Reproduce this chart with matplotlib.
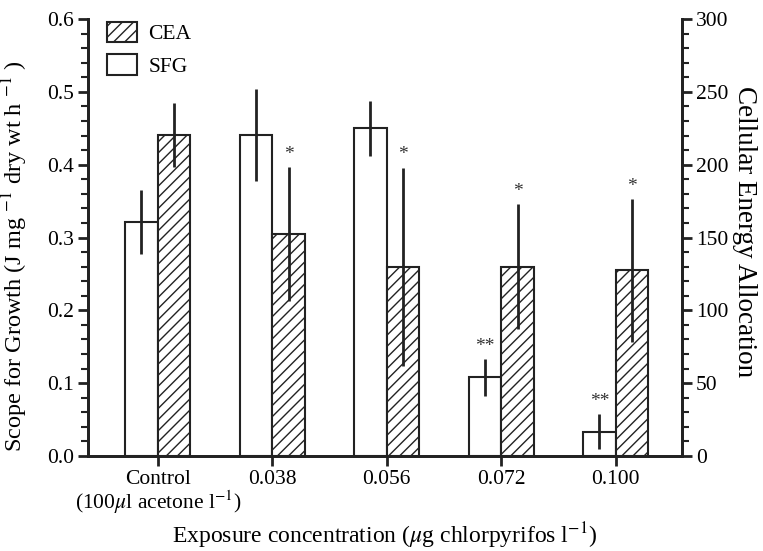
import numpy as np
import matplotlib.pyplot as plt
from matplotlib.ticker import MultipleLocator

plt.rcParams['font.family'] = ['Liberation Serif', 'DejaVu Serif']
plt.rcParams['mathtext.fontset'] = 'stix'
plt.rcParams['hatch.linewidth'] = 1.0

# data
groups = ["Control\n(100$\\mu$l acetone l$^{-1}$)", "0.038", "0.056", "0.072", "0.100"]
sfg = [0.321, 0.441, 0.450, 0.108, 0.033]
sfg_err = [0.044, 0.063, 0.038, 0.025, 0.024]
cea = [220.5, 152.5, 130.0, 130.0, 127.5]      # right axis units
cea_err = [22.0, 46.0, 68.0, 43.0, 49.0]
sfg_marks = ["", "", "", "**", "**"]
cea_marks = ["", "*", "*", "*", "*"]

x = np.arange(len(groups))
w = 0.285
tick_fs = 15.5

fig = plt.figure(figsize=(7.63, 5.51), dpi=100)
ax = fig.add_axes([0.1153, 0.1724, 0.7787, 0.7931])
ax2 = ax.twinx()

b1 = ax.bar(x - w/2, sfg, w, facecolor='white', edgecolor='#222222', lw=1.5, zorder=2)
ax.errorbar(x - w/2, sfg, yerr=sfg_err, fmt='none', ecolor='#222222', elinewidth=2, capsize=0, zorder=3)
b2 = ax2.bar(x + w/2, cea, w, facecolor='white', edgecolor='#222222', lw=1.5, hatch='///', zorder=2)
ax2.errorbar(x + w/2, cea, yerr=cea_err, fmt='none', ecolor='#222222', elinewidth=2, capsize=0, zorder=3)

for i in range(len(x)):
    if sfg_marks[i]:
        ax.annotate(sfg_marks[i], (x[i] - w/2, sfg[i] + sfg_err[i]), xytext=(0, 3),
                    textcoords='offset points', ha='center', va='bottom', fontsize=14, color='#333333')
    if cea_marks[i]:
        ax2.annotate(cea_marks[i], (x[i] + w/2, cea[i] + cea_err[i]), xytext=(0, 3),
                     textcoords='offset points', ha='center', va='bottom', fontsize=14, color='#333333')

ax.set_xlim(-0.61, 4.58)
ax.set_ylim(0, 0.6)
ax2.set_ylim(0, 300)
ax.set_xticks(x)
ax.set_xticklabels(groups)
for lbl in ax.get_xticklabels():
    lbl.set_linespacing(1.0)
ax.yaxis.set_major_locator(MultipleLocator(0.1))
ax.yaxis.set_minor_locator(MultipleLocator(0.02))
ax.yaxis.set_major_formatter(plt.FormatStrFormatter('%.1f'))
ax2.yaxis.set_major_locator(MultipleLocator(50))
ax2.yaxis.set_minor_locator(MultipleLocator(10))

for a in (ax, ax2):
    a.spines['top'].set_visible(False)
    for s in a.spines.values():
        s.set_linewidth(2)
        s.set_color('#222222')
    a.tick_params(axis='both', which='major', length=7, width=2, labelsize=tick_fs,
                  color='#222222', pad=3)
    a.tick_params(axis='y', which='minor', length=5, width=1.5, color='#222222')

ax.set_ylabel("Scope for Growth (J mg $^{-1}$ dry wt h $^{-1}$ )", fontsize=17.5)
ax.yaxis.set_label_coords(-0.097, 0.458)
ax2.set_ylabel("Cellular Energy Allocation", fontsize=19.5, rotation=270, va='bottom')
ax2.yaxis.set_label_coords(1.084, 0.513)
ax.set_xlabel("Exposure concentration ($\\mu$g chlorpyrifos l$^{-1}$)", fontsize=17)
ax.xaxis.set_label_coords(0.5, -0.147)

ax.legend([b2, b1], ["CEA", "SFG"], loc='upper left', bbox_to_anchor=(0.0, 1.038),
          frameon=False, fontsize=tick_fs, handlelength=1.4, handleheight=1.1,
          handletextpad=0.5, labelspacing=0.45)

fig.savefig("out.png", dpi=100)
